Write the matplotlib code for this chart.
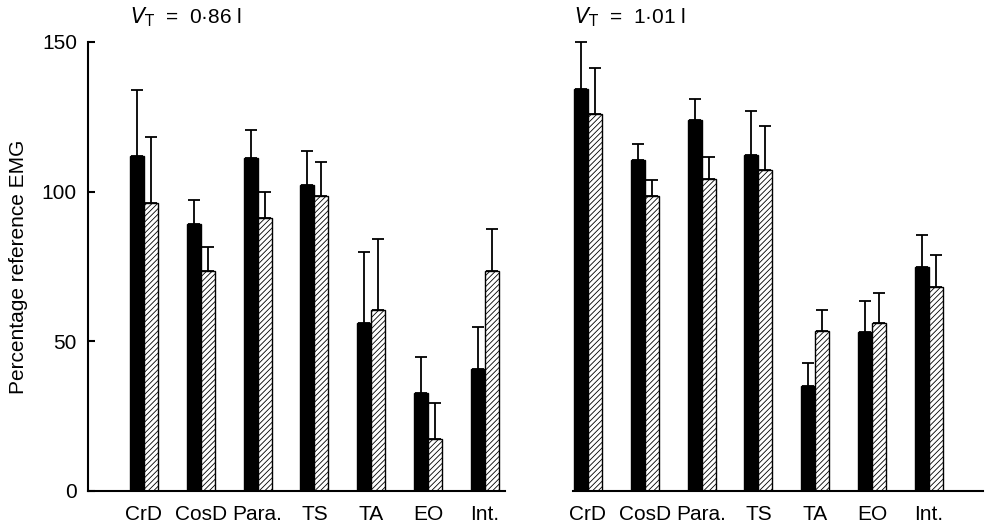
import matplotlib
matplotlib.use("Agg")
import matplotlib.pyplot as plt
import numpy as np

plt.rcParams['font.family'] = ['Liberation Sans', 'DejaVu Sans']
plt.rcParams['hatch.linewidth'] = 0.6

categories = ["CrD", "CosD", "Para.", "TS", "TA", "EO", "Int."]
left_black = [111.9, 89.3, 111.3, 102.3, 56.0, 32.6, 40.9]
left_black_top = [134.0, 97.3, 120.5, 113.6, 79.9, 44.8, 54.8]
left_hatch = [96.2, 73.5, 91.2, 98.7, 60.6, 17.4, 73.5]
left_hatch_top = [118.2, 81.5, 99.9, 109.9, 84.3, 29.3, 87.4]
right_black = [134.4, 110.7, 123.8, 112.1, 35.1, 53.2, 74.9]
right_black_top = [150.0, 116.0, 130.9, 127.1, 42.8, 63.4, 85.4]
right_hatch = [125.8, 98.7, 104.3, 107.2, 53.4, 56.0, 68.0]
right_hatch_top = [141.4, 104.0, 111.6, 122.1, 60.6, 66.0, 78.8]

W, H = 985, 528
fig = plt.figure(figsize=(W/100, H/100), dpi=100)
bot = 1 - 491/H
hgt = (491-42)/H
unit = 56.8
axL = fig.add_axes([88/W, bot, (505-88)/W, hgt])
axR = fig.add_axes([573/W, bot, (983-573)/W, hgt])

def draw(ax, b, bt, h, ht, x0px, x1px, c0px, title):
    x = np.arange(len(categories))
    w = 14/unit
    ax.bar(x - w/2, b, w, color='black', edgecolor='black', lw=1)
    ax.bar(x + w/2, h, w, color='white', edgecolor='black', lw=1, hatch='//////')
    ax.errorbar(x - w/2, bt, yerr=[np.array(bt)-np.array(b), np.zeros(len(b))],
                fmt='none', ecolor='black', elinewidth=1.3, capsize=4, capthick=1.3, clip_on=False)
    ax.errorbar(x + w/2, ht, yerr=[np.array(ht)-np.array(h), np.zeros(len(h))],
                fmt='none', ecolor='black', elinewidth=1.3, capsize=4, capthick=1.3, clip_on=False)
    ax.set_xlim((x0px - c0px)/unit, (x1px - c0px)/unit)
    ax.set_ylim(0, 150)
    ax.set_xticks(x)
    ax.set_xticklabels(categories, fontsize=15)
    ax.tick_params(axis='x', length=0, pad=10)
    for s in ['top', 'right']:
        ax.spines[s].set_visible(False)
    ax.spines['bottom'].set_linewidth(1.5)
    ax.spines['left'].set_linewidth(1.5)
    ax.text((c0px - 14 - x0px)/(x1px - x0px), 1.03, title, transform=ax.transAxes,
            fontsize=15, ha='left', va='bottom')

draw(axL, left_black, left_black_top, left_hatch, left_hatch_top, 88, 505, 144,
     r"$V_{\mathrm{T}}$  =  0·86 l")
draw(axR, right_black, right_black_top, right_hatch, right_hatch_top, 573, 983, 588,
     r"$V_{\mathrm{T}}$  =  1·01 l")
axL.set_yticks([0, 50, 100, 150])
axL.tick_params(axis='y', direction='in', length=5, width=1.5, labelsize=15, pad=8)
axL.set_ylabel("Percentage reference EMG", fontsize=15, labelpad=10)
axR.spines['left'].set_visible(False)
axR.set_yticks([])

fig.savefig("out.png", dpi=100)
